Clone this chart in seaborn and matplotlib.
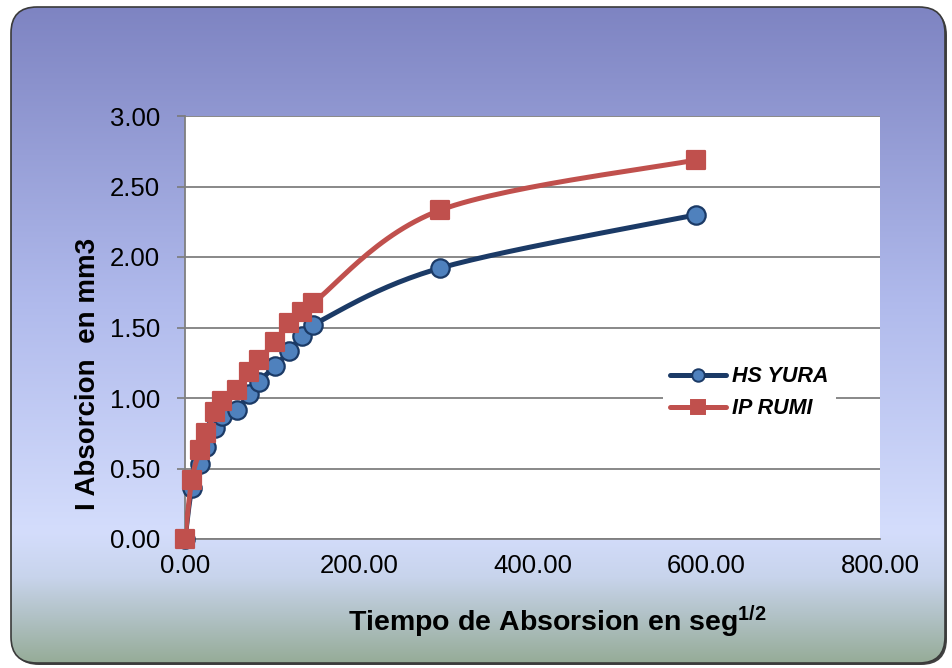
import numpy as np
import matplotlib
matplotlib.use("Agg")
import matplotlib.pyplot as plt
import seaborn as sns
import pandas as pd
from matplotlib.patches import FancyBboxPatch
from matplotlib.lines import Line2D

# Absorption test readings (time in seconds^1/2)
tiempo = [0.00, 7.75, 17.32, 24.49, 34.64, 42.43, 60.00, 73.48, 84.85,
          103.92, 120.00, 134.16, 146.97, 293.94, 587.88]
hs_yura = [0.00, 0.36, 0.53, 0.655, 0.785, 0.87, 0.915, 1.03, 1.115,
           1.227, 1.335, 1.44, 1.518, 1.922, 2.298]
ip_rumi = [0.00, 0.418, 0.63, 0.75, 0.90, 0.98, 1.057, 1.184, 1.27,
           1.397, 1.53, 1.612, 1.672, 2.333, 2.688]
series_names = ["HS YURA", "IP RUMI"]
x_ticks = [0, 200, 400, 600, 800]
y_ticks = [0.0, 0.5, 1.0, 1.5, 2.0, 2.5, 3.0]
x_label_main = "Tiempo de Absorsion en seg"
x_label_sup = "1/2"
y_label = "I Absorcion  en mm3"

sns.set_theme(style="white")
plt.rcParams['font.family'] = ['Liberation Sans', 'DejaVu Sans']
plt.rcParams['mathtext.fontset'] = 'custom'
plt.rcParams['mathtext.rm'] = 'Liberation Sans'
plt.rcParams['mathtext.bf'] = 'Liberation Sans:bold'
plt.rcParams['text.color'] = 'black'
plt.rcParams['xtick.color'] = 'black'
plt.rcParams['ytick.color'] = 'black'


def smooth(xs, ys, n=30):
    """Catmull-Rom curve through the points (smoothed line)."""
    p = np.column_stack([xs, ys]).astype(float)
    p = np.vstack([p[0], p, p[-1]])
    out = []
    t = np.linspace(0, 1, n)[:, None]
    for i in range(1, len(p) - 2):
        p0, p1, p2, p3 = p[i - 1], p[i], p[i + 1], p[i + 2]
        seg = 0.5 * ((2 * p1) + (-p0 + p2) * t +
                     (2 * p0 - 5 * p1 + 4 * p2 - p3) * t ** 2 +
                     (-p0 + 3 * p1 - 3 * p2 + p3) * t ** 3)
        out.append(seg if i == 1 else seg[1:])
    out = np.vstack(out)
    return out[:, 0], out[:, 1]


W, H = 952, 668
fig = plt.figure(figsize=(W / 100, H / 100), dpi=100)
fig.patch.set_facecolor("white")

# Rounded gradient panel behind the chart
bg = fig.add_axes([0, 0, 1, 1])
bg.set_xlim(0, W)
bg.set_ylim(H, 0)
bg.axis("off")
shadow = FancyBboxPatch((13, 9), 934, 656, boxstyle="round,pad=0,rounding_size=26",
                        facecolor="#202020", edgecolor="none", alpha=0.85)
bg.add_patch(shadow)
panel = FancyBboxPatch((11, 7), 934, 656, boxstyle="round,pad=0,rounding_size=26",
                       facecolor="none", edgecolor="#3a3a3a", linewidth=1.2, zorder=3)
bg.add_patch(panel)
stops = np.array([0.0, 0.45, 0.80, 0.87, 1.0])
cols = np.array([[126, 132, 194], [176, 186, 236], [212, 221, 252],
                 [200, 212, 236], [150, 172, 152]]) / 255.0
yy = np.linspace(0, 1, 400)
grad = np.column_stack([np.interp(yy, stops, cols[:, k]) for k in range(3)])
img = bg.imshow(grad[:, None, :], extent=[11, 945, 663, 7], aspect="auto",
                interpolation="bilinear", zorder=2)
clip = FancyBboxPatch((11, 7), 934, 656, boxstyle="round,pad=0,rounding_size=26",
                      transform=bg.transData, facecolor="none", edgecolor="none")
bg.add_patch(clip)
img.set_clip_path(clip)

# Plot area
ax = fig.add_axes([185 / W, 1 - 539 / H, (880 - 185) / W, (539 - 116) / H])
ax.set_facecolor("white")
ax.set_xlim(0, 800)
ax.set_ylim(0, 3)
ax.set_yticks(y_ticks)
ax.set_xticks(x_ticks)
ax.set_yticklabels([f"{v:.2f}" for v in y_ticks], fontsize=18.5, color="black")
ax.set_xticklabels([f"{v:.2f}" for v in x_ticks], fontsize=18.5, color="black")
ax.tick_params(axis="y", length=6, width=1.2, color="#7a7a7a", pad=12, left=True,
               labelcolor="black")
ax.tick_params(axis="x", length=0, pad=11, labelcolor="black")
ax.yaxis.grid(True, color="#7f7f7f", linewidth=1.3)
ax.xaxis.grid(False)
for s in ["top", "right"]:
    ax.spines[s].set_visible(False)
ax.spines["left"].set_color("#7f7f7f")
ax.spines["left"].set_linewidth(1.3)
ax.spines["bottom"].set_color("#7f7f7f")
ax.spines["bottom"].set_linewidth(1.3)

styles = {
    "HS YURA": dict(line="#1b3a66", face="#4f81bd", edge="#1b3a66", marker="o", ys=hs_yura),
    "IP RUMI": dict(line="#c0504d", face="#c0504d", edge="#c0504d", marker="s", ys=ip_rumi),
}
handles = []
z = 3
for name in series_names:
    st = styles[name]
    sx, sy = smooth(tiempo, st["ys"])
    sns.lineplot(x=sx, y=sy, sort=False, estimator=None, ax=ax,
                 color=st["line"], linewidth=3.6, zorder=z)
    df = pd.DataFrame({"t": tiempo, "v": st["ys"]})
    sns.scatterplot(data=df, x="t", y="v", ax=ax, marker=st["marker"], s=175,
                    color=st["face"], edgecolor=st["edge"], linewidth=1.6,
                    zorder=z + 1, clip_on=False)
    handles.append(Line2D([0], [0], color=st["line"], linewidth=3.6, marker=st["marker"],
                          markersize=9 if st["marker"] == "o" else 10,
                          markerfacecolor=st["face"], markeredgecolor=st["edge"],
                          markeredgewidth=1.4, label=name))
    z += 2
for coll in ax.collections:
    coll.set_clip_on(False)
ax.set_xlabel("")
ax.set_ylabel("")

leg = ax.legend(handles=handles, loc="upper left",
                bbox_to_anchor=(652 / W, 1 - 348 / H), bbox_transform=fig.transFigure,
                frameon=True, facecolor="white", edgecolor="none", framealpha=1,
                fancybox=False, handlelength=2.6, handletextpad=0.25,
                labelspacing=0.5, borderpad=0.35,
                prop=dict(family="Liberation Sans", weight="bold", style="italic", size=15.5))
for txt in leg.get_texts():
    txt.set_color("black")
leg.set_zorder(10)

fig.text(557 / W, 1 - 622 / H, x_label_main + r"$\mathbf{^{" + x_label_sup + "}}$",
         ha="center", va="center", fontsize=20.5, fontweight="bold", color="black")
fig.text(88 / W, 1 - 374 / H, y_label, rotation=90, ha="center", va="center",
         fontsize=20, fontweight="bold", color="black")

fig.savefig("out.png", dpi=100)
